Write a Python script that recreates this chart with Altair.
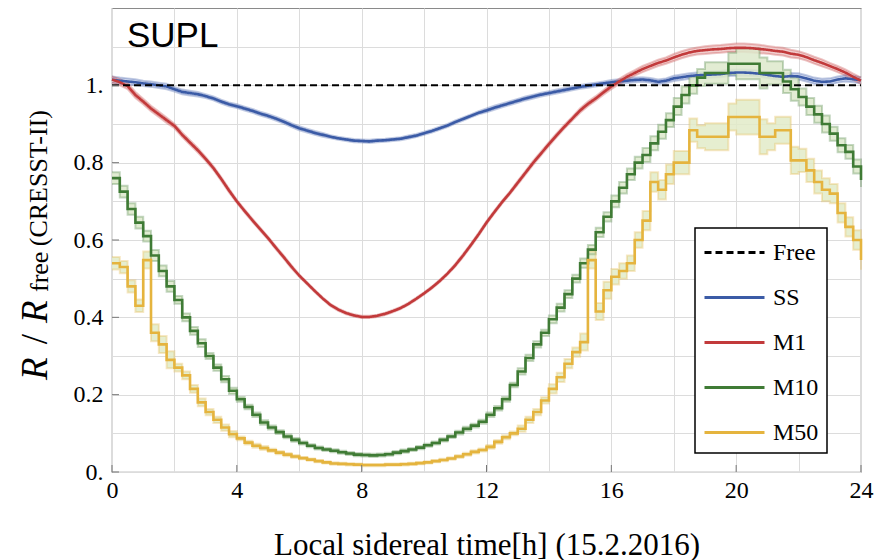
import altair as alt
import pandas as pd

# ---------------- data ----------------
series_names = ["Free", "SS", "M1", "M10", "M50"]
line_colors = ["#000000", "#3b5ba6", "#c23a3b", "#3f7b35", "#e5b43e"]
band_fills = ["#c7d0ea", "#efc6c6", "#dde9cb", "#e2ebc8"]

hours = [i * 0.25 for i in range(97)]  # 0 .. 24 h

ss = [1.015, 1.012, 1.010, 1.008, 1.005, 1.003, 1.000, 0.997,
      0.990, 0.983, 0.980, 0.977, 0.972, 0.966, 0.958, 0.951,
      0.946, 0.940, 0.934, 0.927, 0.921, 0.914, 0.906, 0.897,
      0.889, 0.883, 0.877, 0.872, 0.867, 0.863, 0.860, 0.857,
      0.856, 0.855, 0.857, 0.858, 0.860, 0.862, 0.866, 0.870,
      0.876, 0.882, 0.889, 0.896, 0.905, 0.913, 0.921, 0.929,
      0.935, 0.942, 0.948, 0.954, 0.960, 0.966, 0.971, 0.976,
      0.980, 0.984, 0.988, 0.992, 0.996, 0.999, 1.002, 1.005,
      1.008, 1.010, 1.012, 1.014, 1.015, 1.013, 1.009, 1.012,
      1.018, 1.021, 1.024, 1.026, 1.027, 1.028, 1.029, 1.032,
      1.033, 1.033, 1.032, 1.030, 1.027, 1.024, 1.022, 1.024,
      1.023, 1.018, 1.012, 1.009, 1.010, 1.015, 1.018, 1.016,
      1.013]

m1 = [1.015, 1.008, 0.998, 0.975, 0.958, 0.940, 0.925, 0.910,
      0.895, 0.872, 0.852, 0.832, 0.810, 0.786, 0.758, 0.728,
      0.700, 0.675, 0.651, 0.628, 0.605, 0.580, 0.556, 0.531,
      0.508, 0.488, 0.468, 0.449, 0.432, 0.420, 0.411, 0.405,
      0.401, 0.401, 0.404, 0.409, 0.416, 0.424, 0.435, 0.448,
      0.462, 0.477, 0.494, 0.513, 0.535, 0.560, 0.587, 0.615,
      0.645, 0.672, 0.698, 0.722, 0.748, 0.774, 0.800, 0.824,
      0.848, 0.871, 0.893, 0.914, 0.935, 0.952, 0.966, 0.982,
      0.997, 1.010, 1.022, 1.032, 1.042, 1.050, 1.058, 1.064,
      1.072, 1.079, 1.085, 1.089, 1.091, 1.093, 1.094, 1.096,
      1.097, 1.097, 1.096, 1.094, 1.092, 1.089, 1.087, 1.082,
      1.079, 1.073, 1.065, 1.058, 1.050, 1.042, 1.033, 1.022,
      1.012]

m10 = [0.760, 0.725, 0.680, 0.645, 0.610, 0.560, 0.520, 0.480,
       0.445, 0.400, 0.365, 0.333, 0.300, 0.270, 0.240, 0.210,
       0.188, 0.168, 0.148, 0.128, 0.115, 0.103, 0.092, 0.083,
       0.075, 0.068, 0.062, 0.058, 0.055, 0.051, 0.048, 0.045,
       0.044, 0.043, 0.044, 0.046, 0.050, 0.054, 0.058, 0.063,
       0.069, 0.075, 0.083, 0.092, 0.102, 0.112, 0.120, 0.130,
       0.148, 0.165, 0.188, 0.225, 0.260, 0.295, 0.330, 0.360,
       0.395, 0.425, 0.460, 0.500, 0.540, 0.575, 0.620, 0.660,
       0.700, 0.735, 0.770, 0.800, 0.820, 0.850, 0.880, 0.910,
       0.945, 0.975, 1.000, 1.020, 1.032, 1.032, 1.032, 1.056,
       1.056, 1.056, 1.056, 1.032, 1.032, 1.032, 1.010, 0.990,
       0.970, 0.945, 0.925, 0.900, 0.875, 0.845, 0.828, 0.790,
       0.755]

m50 = [0.540, 0.530, 0.480, 0.430, 0.548, 0.360, 0.330, 0.290,
       0.270, 0.250, 0.215, 0.180, 0.155, 0.135, 0.115, 0.098,
       0.087, 0.076, 0.068, 0.062, 0.056, 0.050, 0.045, 0.040,
       0.036, 0.032, 0.028, 0.025, 0.022, 0.021, 0.020, 0.019,
       0.018, 0.018, 0.018, 0.019, 0.019, 0.020, 0.021, 0.023,
       0.025, 0.028, 0.031, 0.035, 0.040, 0.046, 0.052, 0.057,
       0.065, 0.078, 0.090, 0.100, 0.112, 0.135, 0.155, 0.185,
       0.215, 0.245, 0.280, 0.310, 0.336, 0.548, 0.415, 0.470,
       0.505, 0.520, 0.540, 0.600, 0.650, 0.750, 0.730, 0.770,
       0.800, 0.800, 0.884, 0.867, 0.867, 0.867, 0.867, 0.918,
       0.918, 0.918, 0.918, 0.867, 0.867, 0.884, 0.884, 0.806,
       0.806, 0.780, 0.750, 0.730, 0.720, 0.670, 0.634, 0.600,
       0.548]

# half-width of the shaded uncertainty band, one value per hour
ss_err = [0.008, 0.007, 0.006, 0.005, 0.005, 0.005, 0.005, 0.004, 0.004, 0.004, 0.004, 0.004,
          0.005, 0.005, 0.005, 0.005, 0.006, 0.006, 0.007, 0.008, 0.008, 0.008, 0.008, 0.008]
m1_err = [0.008, 0.007, 0.006, 0.005, 0.004, 0.004, 0.003, 0.003, 0.003, 0.003, 0.003, 0.004,
          0.004, 0.005, 0.005, 0.006, 0.007, 0.008, 0.009, 0.010, 0.011, 0.010, 0.009, 0.008]
m10_err = [0.015, 0.014, 0.010, 0.008, 0.006, 0.005, 0.004, 0.004, 0.004, 0.004, 0.004, 0.005,
           0.006, 0.008, 0.010, 0.012, 0.015, 0.018, 0.022, 0.028, 0.040, 0.030, 0.022, 0.018]
m50_err = [0.016, 0.022, 0.010, 0.008, 0.005, 0.004, 0.003, 0.003, 0.003, 0.003, 0.003, 0.004,
           0.005, 0.008, 0.012, 0.022, 0.020, 0.025, 0.030, 0.035, 0.045, 0.035, 0.030, 0.025]

free_h = [0, 24]
free_v = [1.0, 1.0]

x_tick_vals = [0, 4, 8, 12, 16, 20, 24]
x_grid_vals = [0, 2, 4, 6, 8, 10, 12, 14, 16, 18, 20, 22, 24]
y_tick_vals = [0, 0.2, 0.4, 0.6, 0.8, 1.0]
y_grid_vals = [0, 0.1, 0.2, 0.3, 0.4, 0.5, 0.6, 0.7, 0.8, 0.9, 1.0, 1.1]


# ---------------- tables ----------------
def table(items):
    rows = []
    for name, vals, errs in items:
        for h, v in zip(hours, vals):
            e = errs[min(int(h), 23)]
            rows.append({"series": name, "h": h, "v": v, "lo": v - e, "hi": v + e})
    return pd.DataFrame(rows)


smooth_df = table([("SS", ss, ss_err), ("M1", m1, m1_err)])
step_df = table([("M10", m10, m10_err), ("M50", m50, m50_err)])
free_df = pd.DataFrame({"series": "Free", "h": free_h, "v": free_v})

SERIF = "Liberation Serif"
PW, PH = 749, 464

xscale = alt.Scale(domain=[0, 24], nice=False, zero=False)
yscale = alt.Scale(domain=[0, 1.2], nice=False)

xaxis = alt.Axis(values=x_grid_vals,
                 labelExpr="datum.value % 4 == 0 ? datum.label : ''",
                 title="Local sidereal time[h] (15.2.2016)",
                 ticks=False, domain=False, grid=True, gridColor="#dcdcdc",
                 labelFlush=False, labelFont=SERIF, labelFontSize=24, labelColor="black",
                 labelPadding=6, titleFont=SERIF, titleFontSize=31, titleFontWeight="normal",
                 titleColor="black", titleBaseline="alphabetic", titleY=82)
yaxis = alt.Axis(values=y_grid_vals,
                 labelExpr="round(datum.value*10) % 2 == 0 ? (datum.value == 0 ? '0.' : (round(datum.value*10) == 10 ? '1.' : format(datum.value, '.1f'))) : ''",
                 title=None, ticks=False, domain=False, grid=True, gridColor="#dcdcdc",
                 labelFlush=False, labelFont=SERIF, labelFontSize=24, labelColor="black",
                 labelPadding=9)

X = alt.X("h:Q", scale=xscale, axis=xaxis)

stroke_scale = alt.Scale(domain=series_names, range=line_colors)
dash_scale = alt.Scale(domain=series_names, range=[[7, 4], [1, 0], [1, 0], [1, 0], [1, 0]])
fill_scale = alt.Scale(domain=series_names[1:], range=band_fills)

legend = alt.Legend(title=None, orient="none", legendX=583, legendY=220,
                    symbolType="M-1,0H3", symbolSize=900, symbolStrokeWidth=3,
                    symbolOpacity=1, labelFont=SERIF, labelFontSize=24, labelColor="black",
                    labelOffset=37, rowPadding=16, padding=8,
                    fillColor="white", strokeColor="black")

STROKE = alt.Stroke("series:N", scale=stroke_scale, legend=legend)
DASH = alt.StrokeDash("series:N", scale=dash_scale, legend=legend)


def curve_layers(df, interp):
    band = alt.Chart(df).mark_area(interpolate=interp, opacity=0.85).encode(
        x=X,
        y=alt.Y("lo:Q", scale=yscale, axis=yaxis),
        y2="hi:Q",
        fill=alt.Fill("series:N", scale=fill_scale, legend=None),
        detail="series:N",
    )
    e_lo = alt.Chart(df).mark_line(interpolate=interp, opacity=0.3, strokeWidth=2).encode(
        x=X, y=alt.Y("lo:Q", scale=yscale, axis=yaxis), stroke=STROKE)
    e_hi = alt.Chart(df).mark_line(interpolate=interp, opacity=0.3, strokeWidth=2).encode(
        x=X, y=alt.Y("hi:Q", scale=yscale, axis=yaxis), stroke=STROKE)
    main = alt.Chart(df).mark_line(interpolate=interp, strokeWidth=2.6).encode(
        x=X, y=alt.Y("v:Q", scale=yscale, axis=yaxis), stroke=STROKE, strokeDash=DASH)
    return [band, e_lo, e_hi], [main]


s_back, s_main = curve_layers(smooth_df, "linear")
t_back, t_main = curve_layers(step_df, "step-after")

free_line = alt.Chart(free_df).mark_line(strokeWidth=2).encode(
    x=X, y=alt.Y("v:Q", scale=yscale, axis=yaxis), stroke=STROKE, strokeDash=DASH)

xticks = alt.Chart(pd.DataFrame({"h": x_tick_vals})).mark_rule(color="#777777", strokeWidth=1).encode(
    x=X, y=alt.value(PH), y2=alt.value(PH - 7))
yticks = alt.Chart(pd.DataFrame({"v": y_tick_vals})).mark_rule(color="#777777", strokeWidth=1).encode(
    y=alt.Y("v:Q", scale=yscale, axis=yaxis), x=alt.value(0), x2=alt.value(7))


def label(txt, x, y, size, align="left", style="normal", font=SERIF, angle=270):
    return alt.Chart(pd.DataFrame({"t": [txt]})).mark_text(
        align=align, baseline="alphabetic", angle=angle, font=font, fontSize=size,
        fontStyle=style, color="black").encode(text="t:N", x=alt.value(x), y=alt.value(y))


ytitle = [
    label("R", -65, 372, 37, style="italic"),
    label("/", -65, 331, 37, align="center"),
    label("R", -65, 315, 37, style="italic"),
    label("free", -64, 284, 26),
    label("(CRESST-II)", -65, 102, 26, align="right"),
]
supl = label("SUPL", 15, 39, 35, font="Liberation Sans", angle=0)

chart = alt.layer(*s_back, *t_back, *s_main, *t_main, free_line, xticks, yticks, supl, *ytitle).properties(
    width=PW, height=PH,
    autosize=alt.AutoSizeParams(type="none"),
    padding={"left": 104, "top": 0, "right": 20, "bottom": 88},
).configure_view(stroke="#8a8a8a", strokeWidth=1.2).configure_legend(strokeWidth=1.5)

chart.save("out.html", embed_options={"renderer": "svg", "actions": False})
